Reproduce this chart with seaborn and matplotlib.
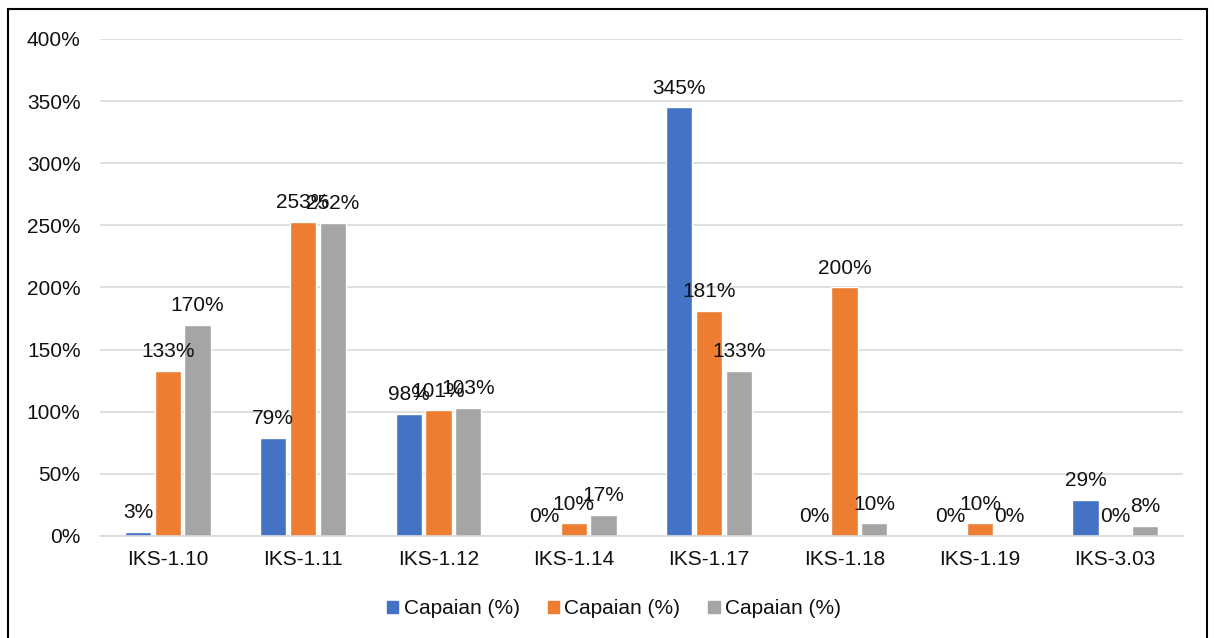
import seaborn as sns
import pandas as pd
import numpy as np
import matplotlib.pyplot as plt
from matplotlib.patches import Rectangle

categories = ['IKS-1.10', 'IKS-1.11', 'IKS-1.12', 'IKS-1.14', 'IKS-1.17', 'IKS-1.18', 'IKS-1.19', 'IKS-3.03']
seri_1 = [3, 79, 98, 0, 345, 0, 0, 29]
seri_2 = [133, 253, 101, 10, 181, 200, 10, 0]
seri_3 = [170, 252, 103, 17, 133, 10, 0, 8]
series_label = 'Capaian (%)'
colors = ['#4472C4', '#ED7D31', '#A5A5A5']

df = pd.DataFrame({
    'IKS': categories * 3,
    'seri': ['s1'] * 8 + ['s2'] * 8 + ['s3'] * 8,
    'nilai': seri_1 + seri_2 + seri_3,
})

sns.set_style('white')
plt.rcParams['font.family'] = ['Liberation Sans', 'DejaVu Sans']
fs = 15
txt_color = '#111111'

fig = plt.figure(figsize=(12.14, 6.38), dpi=100)
ax = fig.add_axes([0.0824, 0.16, 0.892, 0.779])

sns.barplot(data=df, x='IKS', y='nilai', hue='seri', palette=colors,
            width=0.66, gap=0.12, ax=ax, legend=False, saturation=1)

# label persen di atas bar
for cont in ax.containers:
    ax.bar_label(cont, labels=[f'{v:.0f}%' for v in cont.datavalues],
                 padding=7, fontsize=fs, color=txt_color)

ax.set_ylim(0, 400)
ax.set_yticks(np.arange(0, 401, 50))
ax.set_yticklabels([f'{t}%' for t in range(0, 401, 50)])
ax.yaxis.grid(True, color='#D9D9D9', linewidth=1.2)
ax.set_axisbelow(True)
for s in ['top', 'right', 'left']:
    ax.spines[s].set_visible(False)
ax.spines['bottom'].set_color('#D9D9D9')
ax.spines['bottom'].set_linewidth(1.2)
ax.tick_params(axis='y', length=0, pad=14, labelsize=fs, labelcolor=txt_color)
ax.tick_params(axis='x', length=0, pad=10, labelsize=fs, labelcolor=txt_color)
ax.set_xlabel('')
ax.set_ylabel('')

handles = [Rectangle((0, 0), 1, 1, color=c) for c in colors]
fig.legend(handles, [series_label] * 3, loc='center',
           bbox_to_anchor=(0.5 + 7 / 1214, 1 - 609 / 638),
           ncol=3, frameon=False, fontsize=fs, handlelength=0.55, handleheight=0.55,
           handletextpad=0.25, columnspacing=1.35, labelcolor=txt_color)

# bingkai luar
fig.patches.append(Rectangle((8 / 1214, -0.01), 1199 / 1214, 1 - 9 / 638 + 0.01,
                             transform=fig.transFigure, fill=False,
                             edgecolor='black', linewidth=1.5))

fig.savefig('out.png', dpi=100)
